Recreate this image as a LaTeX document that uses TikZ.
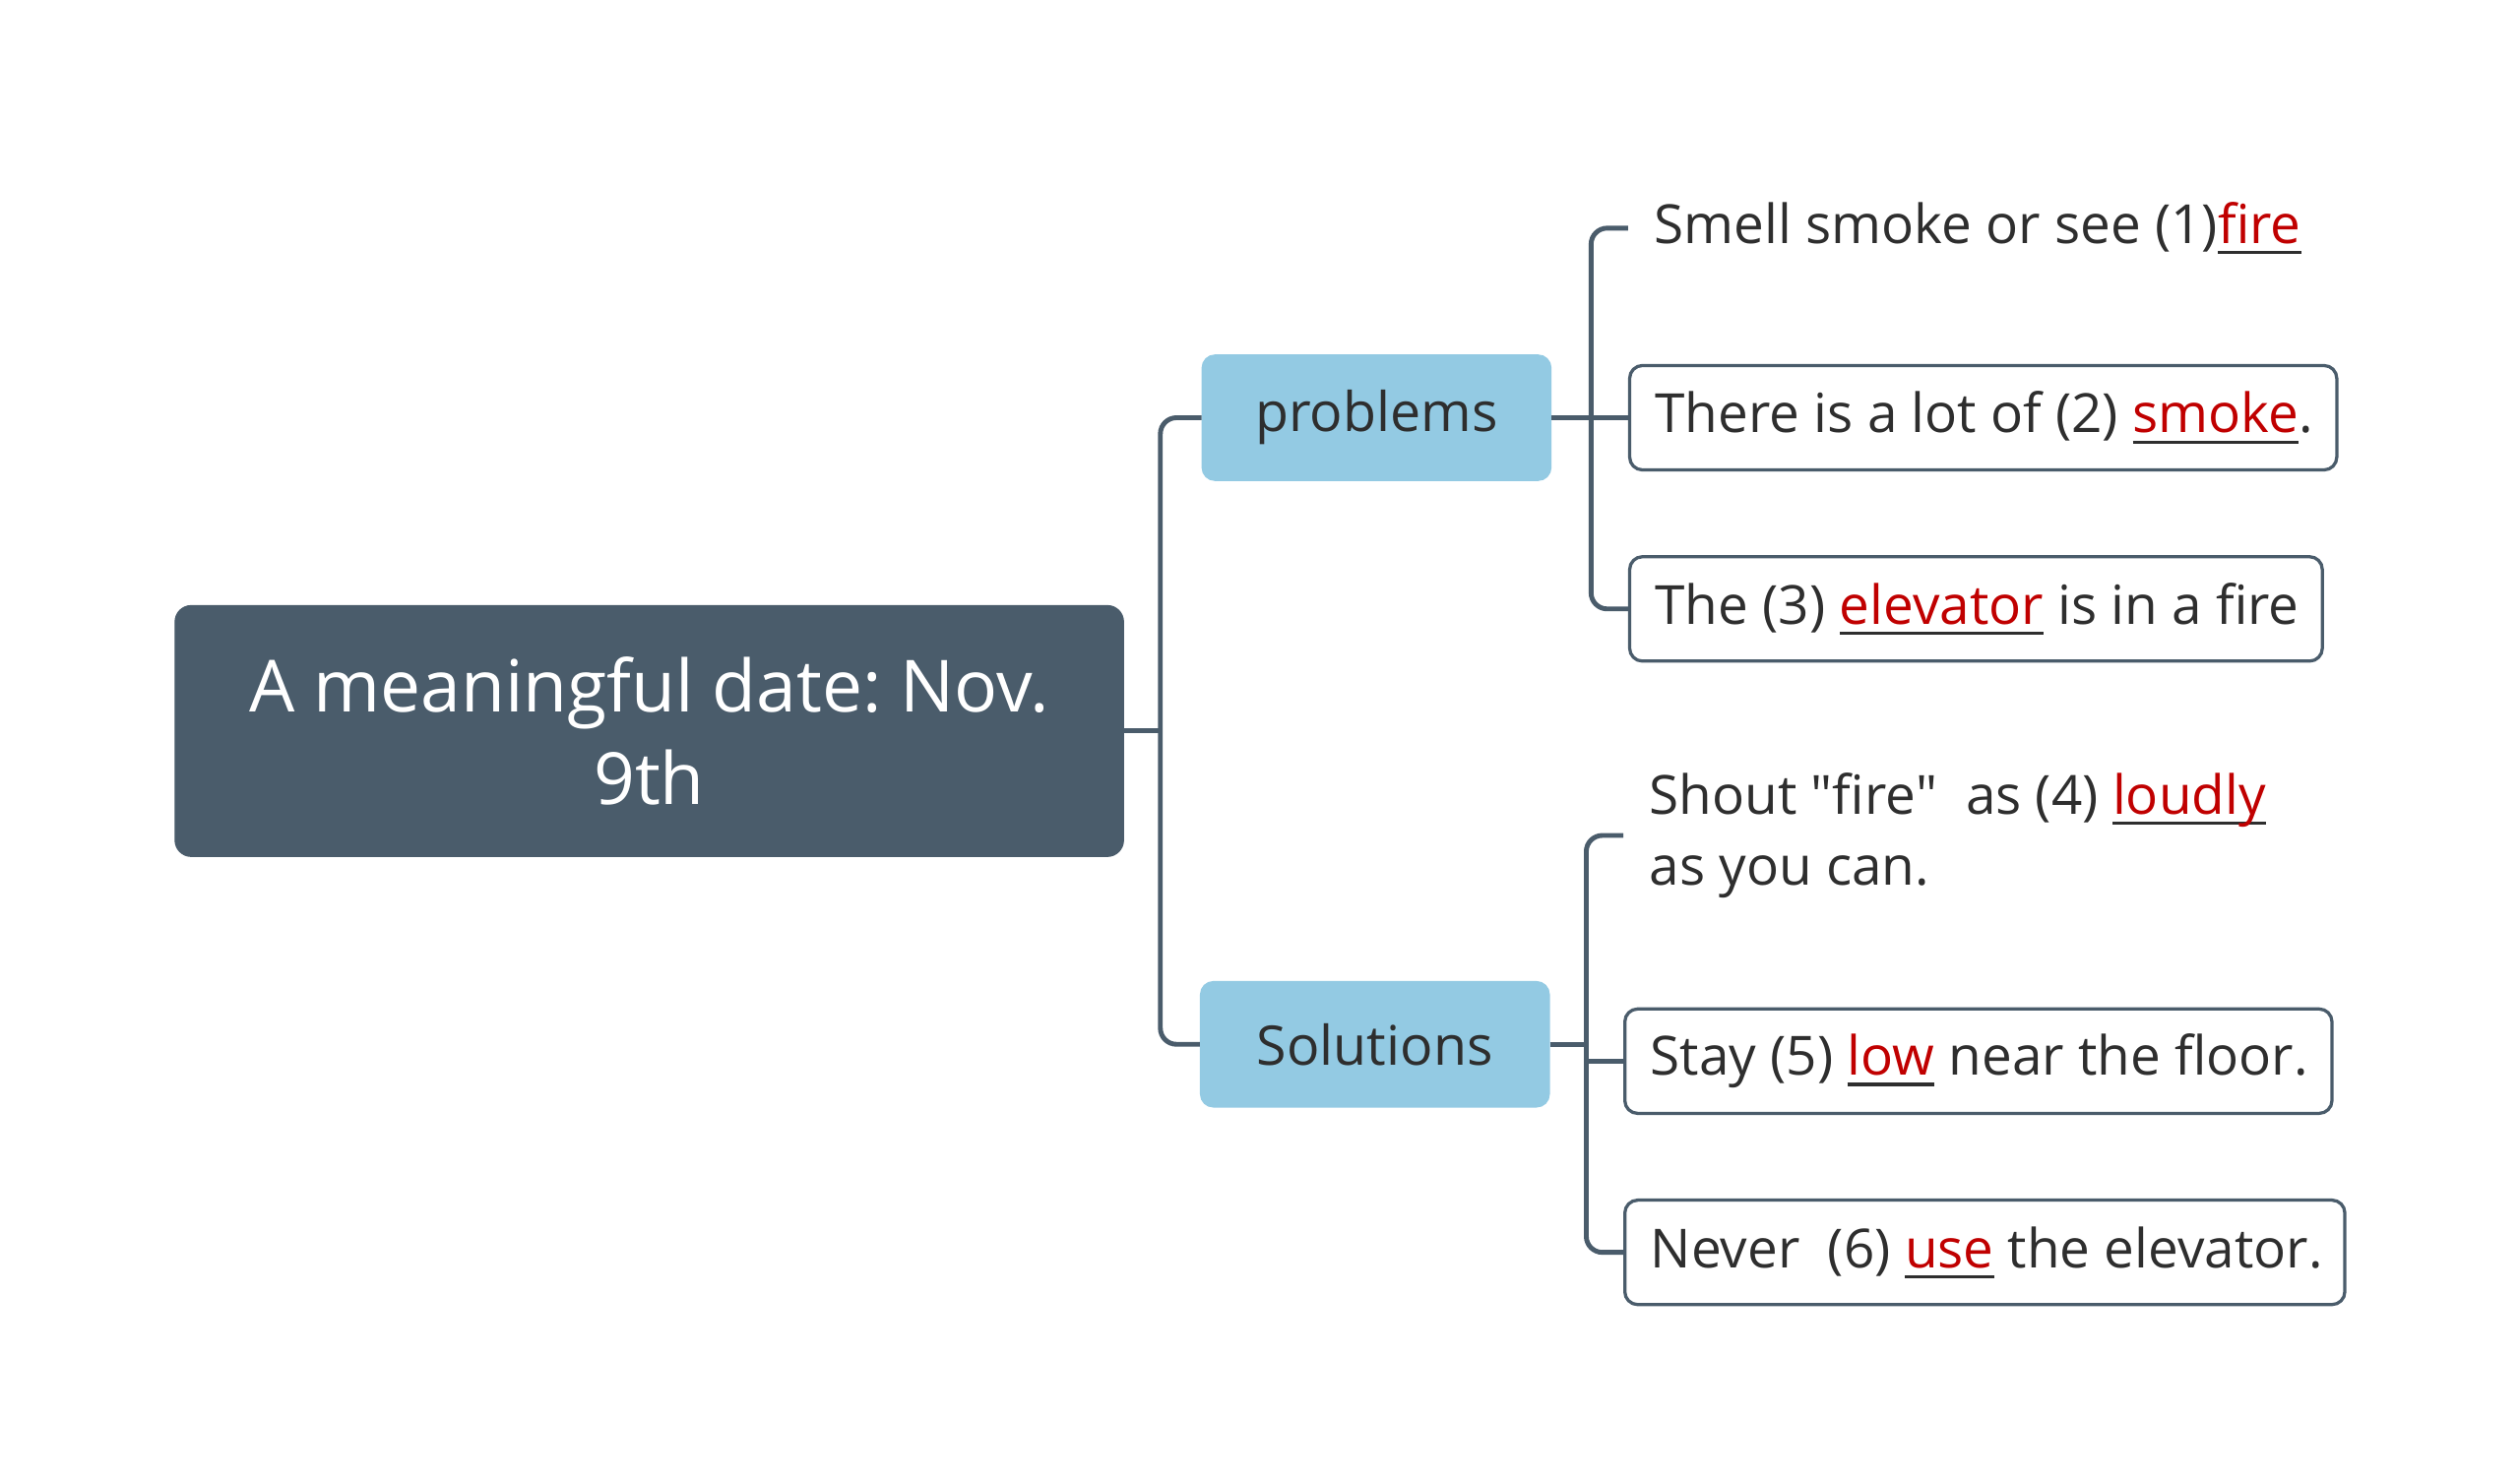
\documentclass[tikz,border=0pt]{standalone}
\usepackage{fontspec}
\setmainfont{Open Sans}
\frenchspacing
\definecolor{dark}{HTML}{4A5C6B}
\definecolor{light}{HTML}{93CAE3}
\definecolor{txt}{HTML}{2E2E2E}
\definecolor{ans}{HTML}{C00000}
\newcommand\ans[1]{\setbox0=\hbox{#1}\rlap{\rule[-0.2em]{\wd0}{0.06em}}\textcolor{ans}{#1}}
\newcommand\lf[2]{\makebox[#1][l]{#2}}
\tikzset{
  rootbox/.style={fill=dark, draw=dark, rounded corners=5pt, text=white, font=\fontsize{22.4}{29}\selectfont, align=center, minimum width=295pt, minimum height=78pt},
  topicbox/.style={fill=light, draw=light, rounded corners=4pt, text=txt, font=\fontsize{17}{22}\selectfont, minimum width=108.5pt, minimum height=39pt},
  leafbox/.style={draw=dark, line width=1pt, rounded corners=4pt, text=txt, font=\fontsize{16.8}{22}\selectfont, anchor=west, inner xsep=8pt, minimum height=32.5pt},
  leafplain/.style={text=txt, font=\fontsize{16.8}{22}\selectfont, anchor=west, align=left, inner xsep=8pt},
  conn/.style={draw=dark, line width=1.5pt, rounded corners=5pt}
}
\begin{document}
\begin{tikzpicture}[x=0.5pt,y=-0.5pt]
\useasboundingbox (0,0) rectangle (1568,921);
\node[rootbox] (root) at (404,455) {A meaningful date: Nov.\\9th};
\node[topicbox] (problems) at (856.5,260) {problems};
\node[topicbox] (solutions) at (855.5,650) {Solutions};
\node[leafplain] (l1) at (1013,142) {Smell smoke or see (1)\ans{fire}};
\node[leafbox] (l2) at (1013,260) {\lf{204pt}{There is a lot of (2) \ans{smoke}.}};
\node[leafbox] (l3) at (1013,379) {\lf{199.5pt}{The (3) \ans{elevator} is in a fire}};
\node[leafplain] (l4) at (1010,520) {Shout \textquotedbl fire\textquotedbl\ \ as (4) \ans{loudly}\\as you can.};
\node[leafbox] (l5) at (1010,660.5) {\lf{204pt}{Stay (5) \ans{low} near the floor.}};
\node[leafbox] (l6) at (1010,779.5) {\lf{208pt}{Never\ \ (6) \ans{use} the elevator.}};
\coordinate (j1) at (722,455);
\coordinate (j2) at (990,260);
\coordinate (j3) at (987,650);
\draw[conn] (root.east) -- (j1);
\draw[conn] (problems.west) -- (problems.west -| j1) -- (solutions.west -| j1) -- (solutions.west);
\draw[conn] (problems.east) -- (l2.west);
\draw[conn] (l1.west) -- (l1.west -| j2) -- (l3.west -| j2) -- (l3.west);
\draw[conn] (solutions.east) -- (j3);
\draw[conn] (l4.west) -- (l4.west -| j3) -- (l6.west -| j3) -- (l6.west);
\draw[conn] (l5.west) -- (l5.west -| j3);
\end{tikzpicture}
\end{document}
